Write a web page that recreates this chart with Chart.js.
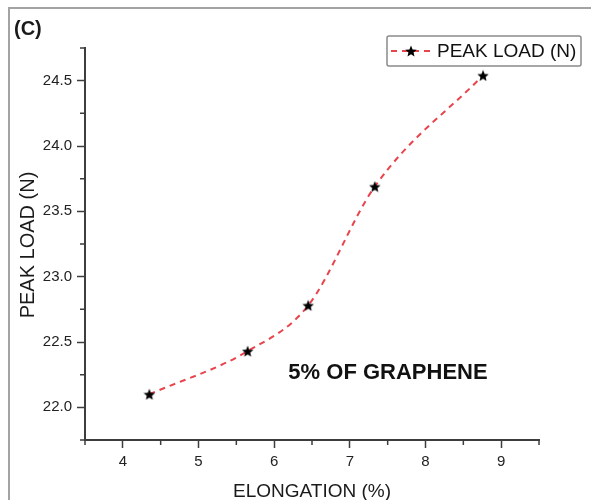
<!DOCTYPE html>
<html>
<head>
<meta charset="utf-8">
<script src="https://cdn.jsdelivr.net/npm/chart.js@4.4.1/dist/chart.umd.min.js"></script>
<style>
  body { margin: 0; background: #fff; }
  #wrap { width: 591px; height: 500px; }
</style>
</head>
<body>
<div id="wrap"><canvas id="peakChart" width="591" height="500" aria-label="Peak load vs elongation"></canvas></div>
<script>
// values
const elongation = [4.35, 5.65, 6.45, 7.33, 8.76];
const peakLoad = [22.10, 22.43, 22.78, 23.69, 24.54];
const xTickValues = [4, 5, 6, 7, 8, 9];
const yTickValues = [22.0, 22.5, 23.0, 23.5, 24.0, 24.5];
const xMinorValues = [3.5, 4.5, 5.5, 6.5, 7.5, 8.5, 9.5];
const yMinorValues = [21.75, 22.25, 22.75, 23.25, 23.75, 24.25, 24.75];

const seriesLabel = 'PEAK LOAD (N)';
const xTitle = 'ELONGATION (%)';
const yTitle = 'PEAK LOAD (N)';
const panelLabel = '(C)';
const note = '5% OF GRAPHENE';

const lineRed = '#e8444c';
const axisColor = '#3d3d3d';

// filled five-point star used for the markers
const makeStar = (size) => {
  const c = document.createElement('canvas');
  c.width = size; c.height = size;
  const g = c.getContext('2d');
  const r = size / 2, ri = r * 0.45;
  g.beginPath();
  for (let i = 0; i < 10; i++) {
    const rad = i % 2 === 0 ? r : ri;
    const a = -Math.PI / 2 + i * Math.PI / 5;
    const px = r + rad * Math.cos(a), py = r + 0.6 + rad * Math.sin(a);
    if (i === 0) g.moveTo(px, py); else g.lineTo(px, py);
  }
  g.closePath();
  g.fillStyle = '#000';
  g.fill();
  return c;
};
const star = makeStar(12);

const extras = {
  id: 'extras',
  afterDraw(chart) {
    const ctx = chart.ctx;
    const xs = chart.scales.x, ys = chart.scales.y;
    ctx.save();

    // outer frame (top and left only)
    ctx.strokeStyle = '#a3a3a3';
    ctx.lineWidth = 2;
    ctx.beginPath();
    ctx.moveTo(9, 500);
    ctx.lineTo(9, 8);
    ctx.lineTo(591, 8);
    ctx.stroke();

    // minor ticks
    ctx.strokeStyle = axisColor;
    ctx.lineWidth = 1.5;
    ctx.beginPath();
    xMinorValues.forEach(v => {
      const px = xs.getPixelForValue(v);
      ctx.moveTo(px, ys.bottom);
      ctx.lineTo(px, ys.bottom + 5);
    });
    yMinorValues.forEach(v => {
      const py = ys.getPixelForValue(v);
      ctx.moveTo(xs.left, py);
      ctx.lineTo(xs.left - 5, py);
    });
    ctx.stroke();

    ctx.fillStyle = '#1a1a1a';
    // panel label
    ctx.font = 'bold 20px "Liberation Sans", Arial, sans-serif';
    ctx.textAlign = 'left';
    ctx.textBaseline = 'middle';
    ctx.fillText(panelLabel, 14, 29);

    // axis titles
    ctx.font = '19px "Liberation Sans", Arial, sans-serif';
    ctx.textAlign = 'center';
    ctx.fillText(xTitle, 312, 492);
    ctx.save();
    ctx.translate(28, 245);
    ctx.rotate(-Math.PI / 2);
    ctx.font = '20px "Liberation Sans", Arial, sans-serif';
    ctx.fillText(yTitle, 0, 0);
    ctx.restore();

    // annotation
    ctx.font = 'bold 22px "Liberation Sans", Arial, sans-serif';
    ctx.fillStyle = '#111';
    ctx.fillText(note, 388, 373);

    // legend box
    ctx.strokeStyle = '#8a8a8a';
    ctx.lineWidth = 1.5;
    ctx.beginPath();
    ctx.roundRect(387, 36, 194, 30, 2);
    ctx.stroke();
    ctx.strokeStyle = lineRed;
    ctx.lineWidth = 2;
    ctx.setLineDash([6, 5]);
    ctx.beginPath();
    ctx.moveTo(391, 51);
    ctx.lineTo(432, 51);
    ctx.stroke();
    ctx.setLineDash([]);
    ctx.drawImage(star, 411 - 6, 51 - 6);
    ctx.fillStyle = '#111';
    ctx.font = '19px "Liberation Sans", Arial, sans-serif';
    ctx.textAlign = 'left';
    ctx.fillText(seriesLabel, 437, 52);

    ctx.restore();
  }
};

new Chart(document.getElementById('peakChart'), {
  type: 'line',
  data: {
    datasets: [{
      label: seriesLabel,
      data: elongation.map((x, i) => ({ x: x, y: peakLoad[i] })),
      borderColor: lineRed,
      borderWidth: 2,
      borderDash: [6, 5],
      cubicInterpolationMode: 'monotone',
      fill: false,
      pointStyle: star,
      pointRadius: 6,
      pointHoverRadius: 6,
    }],
  },
  options: {
    responsive: false,
    animation: false,
    events: [],
    layout: { padding: { top: 48, right: 52, left: 0, bottom: 0 } },
    plugins: { legend: { display: false }, tooltip: { enabled: false } },
    scales: {
      x: {
        type: 'linear',
        min: 3.5,
        max: 9.5,
        afterFit: (s) => { s.height = 60; },
        afterBuildTicks: (s) => { s.ticks = xTickValues.map(v => ({ value: v })); },
        border: { display: true, color: axisColor, width: 2 },
        grid: { drawOnChartArea: false, drawTicks: true, tickLength: 8, tickColor: axisColor, tickWidth: 1.5 },
        ticks: {
          padding: 5,
          color: '#222',
          font: { family: '"Liberation Sans", Arial, sans-serif', size: 15 },
          callback: (v) => String(v),
        },
      },
      y: {
        type: 'linear',
        min: 21.75,
        max: 24.75,
        afterFit: (s) => { s.width = 85; },
        afterBuildTicks: (s) => { s.ticks = yTickValues.map(v => ({ value: v })); },
        border: { display: true, color: axisColor, width: 2 },
        grid: { drawOnChartArea: false, drawTicks: true, tickLength: 8, tickColor: axisColor, tickWidth: 1.5 },
        ticks: {
          padding: 5,
          color: '#222',
          font: { family: '"Liberation Sans", Arial, sans-serif', size: 15 },
          callback: (v) => Number(v).toFixed(1),
        },
      },
    },
  },
  plugins: [extras],
});
</script>
</body>
</html>
